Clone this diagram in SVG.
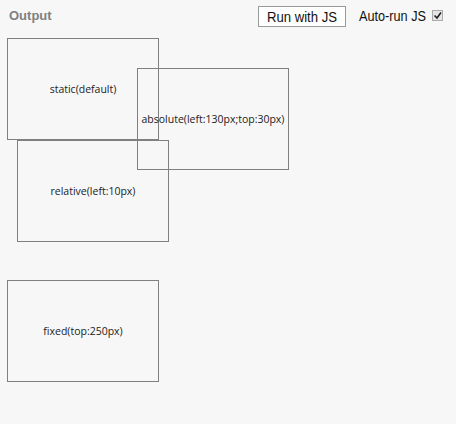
<svg xmlns="http://www.w3.org/2000/svg" width="456" height="424" viewBox="0 0 456 424">
<style>
.box{fill:none;stroke:#808080;stroke-width:1}
.lbl{font-family:"Open Sans","Noto Sans","DejaVu Sans",sans-serif;font-size:10.5px;fill:#222;text-anchor:middle}
.hdr{font-family:"Liberation Sans",Arial,sans-serif;font-size:13px;font-weight:bold;fill:#808080}
.ui{font-family:"Liberation Sans",Arial,sans-serif;font-size:14px;fill:#111}
</style>
<rect x="0" y="0" width="456" height="424" fill="#f7f7f7"/>
<g id="header">
<text class="hdr" x="9" y="20">Output</text>
<rect x="258.5" y="6.5" width="87" height="20" fill="#fff" stroke="#999"/>
<text class="ui" x="302" y="22" text-anchor="middle" textLength="70" lengthAdjust="spacingAndGlyphs">Run with JS</text>
<text class="ui" x="359" y="21" font-size="13" textLength="67" lengthAdjust="spacingAndGlyphs">Auto-run JS</text>
<rect x="432.5" y="10.5" width="10" height="10" fill="#e6e6e6" stroke="#aaa"/>
<path d="M434.5 15.5 L437 18 L441 12.5" fill="none" stroke="#222" stroke-width="1.6"/>
</g>
<g id="static">
<rect class="box" x="7.5" y="38.5" width="151" height="101"/>
<text class="lbl" x="83" y="93">static(default)</text>
</g>
<g id="relative">
<rect class="box" x="17.5" y="140.5" width="151" height="101"/>
<text class="lbl" x="93" y="195">relative(left:10px)</text>
</g>
<g id="absolute">
<rect class="box" x="137.5" y="68.5" width="151" height="101"/>
<text class="lbl" x="213" y="123">absolute(left:130px;top:30px)</text>
</g>
<g id="fixed">
<rect class="box" x="7.5" y="280.5" width="151" height="101"/>
<text class="lbl" x="83" y="335">fixed(top:250px)</text>
</g>
<g id="connectors"></g>
</svg>
